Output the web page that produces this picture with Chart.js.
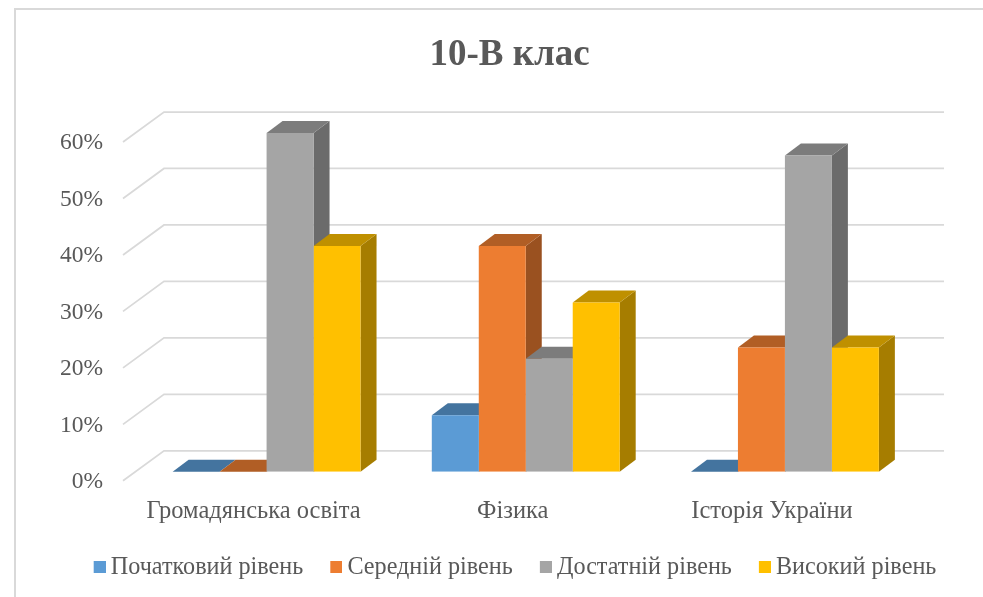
<!DOCTYPE html>
<html lang="uk">
<head>
<meta charset="utf-8">
<style>html,body{margin:0;padding:0;background:#fff}canvas{display:block}</style>
<script src="https://cdn.jsdelivr.net/npm/chart.js@4"></script>
</head>
<body>
<canvas id="c" width="983" height="597"></canvas>
<script>
const categories = ['Громадянська освіта', 'Фізика', 'Історія України'];
const seriesNames = ['Початковий рівень', 'Середній рівень', 'Достатній рівень', 'Високий рівень'];
const initialLevel = [0, 10, 0];
const mediumLevel = [0, 40, 22];
const sufficientLevel = [60, 20, 56];
const highLevel = [40, 30, 22];
const frontColors = ['#5B9BD5', '#ED7D31', '#A5A5A5', '#FFC000'];
const topColors = ['#44749F', '#B15E25', '#7C7C7C', '#BF9000'];
const sideColors = ['#3B658A', '#9A5120', '#6B6B6B', '#A67D00'];
const TEXT = '#595959';
const FONT = '"Liberation Serif"';
const DEPTH_X = 16, DEPTH_Y = 12;
const GRID_FRONT_X = 123, GRID_BACK_X = 164, GRID_END_X = 944;
const GRID_FRONT_DY = 9, GRID_BACK_DY = -21;

const swatches = frontColors.map(col => {
  const s = document.createElement('canvas');
  s.width = 16; s.height = 12;
  const g = s.getContext('2d');
  g.fillStyle = col; g.fillRect(4, 0, 12, 12);
  return s;
});

const depth3d = {
  id: 'depth3d',
  afterLayout(chart) {
    chart.legend.left += 7;
    chart.legend.right += 7;
  },
  beforeDraw(chart) {
    const ctx = chart.ctx;
    ctx.save();
    ctx.strokeStyle = '#D9D9D9';
    ctx.lineWidth = 2;
    ctx.beginPath();
    ctx.moveTo(15, 597); ctx.lineTo(15, 9); ctx.lineTo(983, 9);
    ctx.stroke();
    ctx.restore();
  },
  beforeDatasetsDraw(chart) {
    const ctx = chart.ctx, y = chart.scales.y;
    ctx.save();
    ctx.strokeStyle = '#D9D9D9';
    ctx.lineWidth = 1.75;
    y.ticks.forEach(t => {
      const p = y.getPixelForValue(t.value);
      ctx.beginPath();
      ctx.moveTo(GRID_FRONT_X, p + GRID_FRONT_DY);
      ctx.lineTo(GRID_BACK_X, p + GRID_BACK_DY);
      ctx.lineTo(GRID_END_X, p + GRID_BACK_DY);
      ctx.stroke();
    });
    categories.forEach((_, ci) => {
      chart.data.datasets.forEach((_, di) => {
        const b = chart.getDatasetMeta(di).data[ci];
        const l = b.x - b.width / 2, r = b.x + b.width / 2, t = b.y, base = b.base;
        ctx.fillStyle = sideColors[di];
        ctx.beginPath();
        ctx.moveTo(r, t); ctx.lineTo(r + DEPTH_X, t - DEPTH_Y);
        ctx.lineTo(r + DEPTH_X, base - DEPTH_Y); ctx.lineTo(r, base);
        ctx.closePath(); ctx.fill();
        ctx.fillStyle = topColors[di];
        ctx.beginPath();
        ctx.moveTo(l, t); ctx.lineTo(r, t);
        ctx.lineTo(r + DEPTH_X, t - DEPTH_Y); ctx.lineTo(l + DEPTH_X, t - DEPTH_Y);
        ctx.closePath(); ctx.fill();
      });
    });
    ctx.restore();
  }
};

new Chart(document.getElementById('c'), {
  type: 'bar',
  data: {
    labels: categories,
    datasets: [initialLevel, mediumLevel, sufficientLevel, highLevel].map((d, i) => ({
      label: seriesNames[i],
      data: d,
      backgroundColor: frontColors[i],
      borderWidth: 0,
      categoryPercentage: 0.725,
      barPercentage: 1
    }))
  },
  plugins: [depth3d],
  options: {
    responsive: false,
    animation: false,
    layout: { padding: { left: 36, right: 0, top: 0, bottom: 7.5 } },
    plugins: {
      tooltip: { enabled: false },
      title: {
        display: true,
        text: '10-В клас',
        color: TEXT,
        font: { family: FONT, size: 37, weight: 'bold', lineHeight: 1.2 },
        padding: { top: 33, bottom: 55.6 }
      },
      legend: {
        position: 'bottom',
        labels: {
          color: TEXT,
          font: { family: FONT, size: 24.2 },
          boxWidth: 12,
          boxHeight: 12,
          padding: 30,
          usePointStyle: true,
          pointStyleWidth: 2,
          generateLabels(chart) {
            return Chart.defaults.plugins.legend.labels.generateLabels(chart)
              .map((it, i) => Object.assign(it, { pointStyle: swatches[i] }));
          }
        }
      }
    },
    scales: {
      x: {
        grid: { display: false },
        border: { display: false },
        ticks: { color: TEXT, font: { family: FONT, size: 24.5 }, padding: 17, labelOffset: -13, maxRotation: 0 },
        afterFit(s) { s.height = 53.5; }
      },
      y: {
        min: 0, max: 60,
        grid: { display: false },
        border: { display: false },
        ticks: {
          stepSize: 10,
          color: TEXT,
          font: { family: FONT, size: 23.5 },
          padding: 26,
          labelOffset: 10,
          callback: v => v + '%'
        },
        afterFit(s) { s.width = 101; }
      },
      rightGap: {
        position: 'right',
        min: 0, max: 1,
        grid: { display: false },
        border: { display: false },
        ticks: { display: false },
        afterFit(s) { s.width = 68.5; }
      }
    }
  }
});
</script>
</body>
</html>
